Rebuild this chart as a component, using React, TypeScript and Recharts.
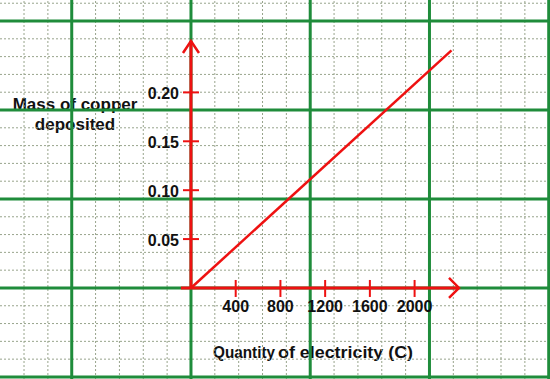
import React from 'react';
import { ComposedChart, XAxis, YAxis, Line, Scatter, ReferenceLine } from 'recharts';

// ---- data ----
const X_TICKS = [400, 800, 1200, 1600, 2000];
const X_TICK_LABELS = ['400', '800', '1200', '1600', '2000'];
const Y_TICKS = [0.05, 0.1, 0.15, 0.2];
const Y_TICK_LABELS = ['0.05', '0.10', '0.15', '0.20'];
const LINE_X = [0, 2330];
const LINE_Y = [0, 0.243];
const X_AXIS_END = 2397;
const Y_AXIS_END = 0.2526;
const X_TITLE_A = 'Quantity';
const X_TITLE_B = 'of electricity (C)';
const Y_TITLE = ['Mass of copper', 'deposited'];

// graph-paper background, in data units
const GRID_X_STEP = 213.3;
const GRID_Y_STEP = 0.0182;
const GRID_X_K = Array.from({ length: 23 }, (_, i) => i - 7);
const GRID_Y_K = Array.from({ length: 22 }, (_, i) => i - 5);

const X_DOMAIN = [-1708, 3211];
const Y_DOMAIN = [-0.0931, 0.2945];

const lineData = LINE_X.map((x, i) => ({ x, y: LINE_Y[i] }));
const xTickData = X_TICKS.map((x, i) => ({ x, y: 0, label: X_TICK_LABELS[i] }));
const yTickData = Y_TICKS.map((y, i) => ({ x: 0, y, label: Y_TICK_LABELS[i] }));

const RED = '#ee1111';
const GREEN = '#1f8c3b';
const MINOR = '#98a48c';
const FONT = '"Liberation Sans", Arial, sans-serif';

const XTickShape = (props: any) => {
  const { cx, cy, payload } = props;
  return (
    <g>
      <line x1={cx} x2={cx} y1={cy - 8} y2={cy + 9} stroke={RED} strokeWidth={2} />
      <text x={cx} y={cy + 24} textAnchor="middle" fontFamily={FONT} fontWeight="bold" fontSize={16} fill="#111">
        {payload.label}
      </text>
    </g>
  );
};

const YTickShape = (props: any) => {
  const { cx, cy, payload } = props;
  return (
    <g>
      <line x1={cx - 8} x2={cx + 8} y1={cy} y2={cy} stroke={RED} strokeWidth={2} />
      <text x={cx - 12} y={cy + 7} textAnchor="end" fontFamily={FONT} fontWeight="bold" fontSize={16} fill="#111">
        {payload.label}
      </text>
    </g>
  );
};

const XArrow = (props: any) => {
  const { cx, cy } = props;
  return (
    <path d={`M${cx - 10},${cy - 10} L${cx},${cy} L${cx - 10},${cy + 10}`} fill="none" stroke={RED} strokeWidth={2.5} />
  );
};

const YArrow = (props: any) => {
  const { cx, cy } = props;
  return (
    <path d={`M${cx - 8},${cy + 12} L${cx},${cy} L${cx + 8},${cy + 12}`} fill="none" stroke={RED} strokeWidth={2.5} />
  );
};

export default function App() {
  return (
    <div style={{ width: 550, height: 379, background: '#fff' }}>
      <style>{`body{margin:0;}`}</style>
      <ComposedChart width={550} height={379} data={lineData} margin={{ top: 0, right: 0, bottom: 0, left: 0 }}>
        <XAxis type="number" dataKey="x" domain={X_DOMAIN} hide allowDataOverflow />
        <YAxis type="number" dataKey="y" domain={Y_DOMAIN} hide allowDataOverflow />

        {GRID_X_K.filter((k) => k % 5 !== 0).map((k) => (
          <ReferenceLine key={'mx' + k} x={k * GRID_X_STEP} stroke={MINOR} strokeWidth={1} strokeDasharray="2 2" />
        ))}
        {GRID_Y_K.filter((k) => k % 5 !== 0).map((k) => (
          <ReferenceLine key={'my' + k} y={k * GRID_Y_STEP} stroke={MINOR} strokeWidth={1} strokeDasharray="2 2" />
        ))}
        {GRID_X_K.filter((k) => k % 5 === 0).map((k) => (
          <ReferenceLine key={'Mx' + k} x={k * GRID_X_STEP} stroke={GREEN} strokeWidth={3} />
        ))}
        {GRID_Y_K.filter((k) => k % 5 === 0).map((k) => (
          <ReferenceLine key={'My' + k} y={k * GRID_Y_STEP} stroke={GREEN} strokeWidth={3} />
        ))}

        <ReferenceLine segment={[{ x: -90, y: 0 }, { x: X_AXIS_END, y: 0 }]} stroke={RED} strokeWidth={3} />
        <ReferenceLine segment={[{ x: 0, y: 0 }, { x: 0, y: Y_AXIS_END }]} stroke={RED} strokeWidth={3} />

        <Line dataKey="y" type="linear" stroke={RED} strokeWidth={2.5} dot={false} activeDot={false} legendType="none" isAnimationActive={false} />

        <Scatter data={xTickData} dataKey="y" shape={XTickShape} isAnimationActive={false} />
        <Scatter data={yTickData} dataKey="y" shape={YTickShape} isAnimationActive={false} />
        <Scatter data={[{ x: X_AXIS_END, y: 0 }]} dataKey="y" shape={XArrow} isAnimationActive={false} />
        <Scatter data={[{ x: 0, y: Y_AXIS_END }]} dataKey="y" shape={YArrow} isAnimationActive={false} />

        <text fontFamily={FONT} fontWeight="bold" fontSize={17} fill="#111" textAnchor="middle">
          <tspan x={75} y={109.5}>{Y_TITLE[0]}</tspan>
          <tspan x={75} y={130}>{Y_TITLE[1]}</tspan>
        </text>
        <text fontFamily={FONT} fontWeight="bold" fontSize={16.5} fill="#111">
          <tspan x={213} y={358} textLength={62} lengthAdjust="spacingAndGlyphs">{X_TITLE_A}</tspan>
          <tspan x={278} y={358} textLength={135} lengthAdjust="spacingAndGlyphs">{X_TITLE_B}</tspan>
        </text>
      </ComposedChart>
    </div>
  );
}
